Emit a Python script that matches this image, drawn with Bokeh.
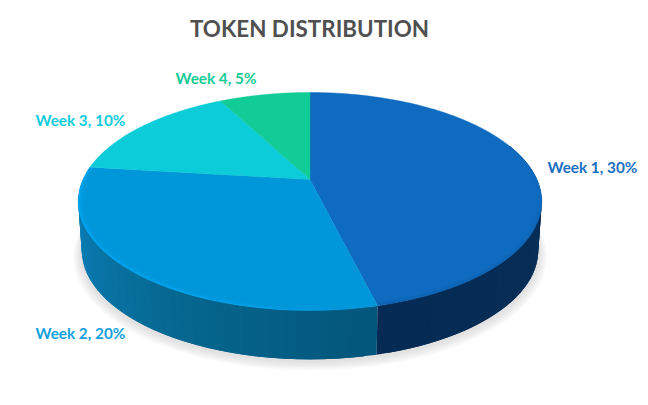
import numpy as np
from bokeh.plotting import figure
from bokeh.models import Range1d
from bokeh.core.properties import value
from bokeh.embed import file_html
from bokeh.resources import INLINE

# ---- data ----
categories = ["Week 1", "Week 2", "Week 3", "Week 4"]
shares = [30, 20, 10, 5]
title_text = "TOKEN DISTRIBUTION"

# ---- styles ----
top_colors = ["#0F6BBF", "#0097DA", "#0BCCD8", "#12CC97"]
label_colors = ["#1B6EC2", "#13A0DE", "#10CCDC", "#14CC96"]
label_x = [547, 35, 35, 175]
label_y = [166, 332, 119, 77]

# ---- projected pie geometry (page pixels) ----
CX, CY, A, B, K = 309.5, 179.0, 227.0, 104.6, 0.2018
DEPTH, SHRINK = 49.0, 0.985


def top(t, r=1.0):
    u, v = r * np.sin(t), r * np.cos(t)
    d = 1 + K * v
    return CX + A * u / d, CY - B * v / d


def bot(t, r=1.0, dy=0.0):
    x, y = top(t, r)
    return CX + (x - CX) * SHRINK, y + DEPTH + dy


def mix(stops, f):
    ps = [s[0] for s in stops]
    chans = [[int(s[1][i:i + 2], 16) for s in stops] for i in (1, 3, 5)]
    return "#%02x%02x%02x" % tuple(int(round(np.interp(f, ps, c))) for c in chans)


frac = np.array(shares, dtype=float) / sum(shares)
edges = np.concatenate([[0], np.cumsum(frac)]) * 2 * np.pi

p = figure(width=640, height=397, x_range=Range1d(0, 640), y_range=Range1d(397, 0),
           output_backend="svg", toolbar_location=None, min_border=0,
           outline_line_color=None, background_fill_color="white", border_fill_color="white")
p.axis.visible = False
p.grid.visible = False

# soft shadow below the disc
full = np.linspace(0, 2 * np.pi, 240)
for r, dy in zip([1.035, 1.028, 1.021, 1.014, 1.007], [5, 4.5, 4, 3, 2]):
    sx, sy = bot(full, r, dy)
    p.patch(sx, sy, fill_color="#707070", fill_alpha=0.045, line_color=None)

# side wall: each strip overlaps the next so that no seams show
side_stops = [
    [(0.0, "#052B54"), (0.4, "#062D56"), (1.0, "#07305A")],
    [(0.0, "#03567C"), (0.35, "#06678F"), (0.7, "#0A79AF"), (1.0, "#0E8BC8")],
]
lo, hi = np.radians(70), np.radians(290)
for i, stops in reversed(list(enumerate(side_stops))):
    a = max(edges[i], lo)
    b = min(edges[i + 1], hi)
    n = 40
    ts = np.linspace(a, b, n + 1)
    order = range(n - 1, -1, -1) if i == 1 else range(n)
    xs, ys, cols = [], [], []
    for j in order:
        t0 = ts[j]
        t1 = ts[j + 1]
        # strip reaches one step further back under the one drawn next
        if i == 1:
            t1 = ts[min(j + 2, n)]
        else:
            t0 = ts[max(j - 1, 0)]
        x0, y0 = top(t0)
        x1, y1 = top(t1)
        x2, y2 = bot(t1)
        x3, y3 = bot(t0)
        f = (j + 0.5) / n
        f = f if i == 1 else 1 - f
        xs.append([x0, x1, x2, x3])
        ys.append([y0, y1, y2, y3])
        cols.append(mix(stops, f))
    p.patches(xs, ys, fill_color=cols, line_color=None)

# top faces
for i, col in enumerate(top_colors):
    ts = np.linspace(edges[i], edges[i + 1], 120)
    x, y = top(ts)
    p.patch(np.r_[CX, x], np.r_[CY, y], fill_color=col, line_color=col, line_width=0.4)

# bevel on the rim of the two front slices
rim_styles = [("#0A4F93", 0, 0.4), ("#00AAF8", 1, 0.9)]
rim_x, rim_y, rim_c, rim_a = [], [], [], []
for col, i, strength in rim_styles:
    n = 70
    ts = np.linspace(max(edges[i], np.radians(55)), edges[i + 1], n + 1)
    for j in range(n):
        f = (j + 0.5) / n
        fade = min(1.0, f / 0.3) if i == 1 else (f ** 2)
        for r0, r1, al in [(0.994, 1.0, 0.8), (0.988, 0.994, 0.45), (0.98, 0.988, 0.18)]:
            a0, a1 = ts[j], ts[j + 1]
            x0, y0 = top(a0, r1)
            x1, y1 = top(a1, r1)
            x2, y2 = top(a1, r0)
            x3, y3 = top(a0, r0)
            rim_x.append([x0, x1, x2, x3])
            rim_y.append([y0, y1, y2, y3])
            rim_c.append(col)
            rim_a.append(al * fade * strength)
p.patches(rim_x, rim_y, fill_color=rim_c, fill_alpha=rim_a, line_color=None)

# texts
labels = [f"{c}, {v}%" for c, v in zip(categories, shares)]
p.text(label_x, label_y, text=labels, text_color=label_colors,
       text_font=value("Lato"), text_font_style="bold", text_font_size="15.3px",
       text_align="left", text_baseline="middle")
p.text([309], [28], text=[title_text], text_color="#505050",
       text_font=value("Lato"), text_font_style="bold", text_font_size="22.4px",
       text_align="center", text_baseline="middle")

open("out.html", "w").write(file_html(p, INLINE))
